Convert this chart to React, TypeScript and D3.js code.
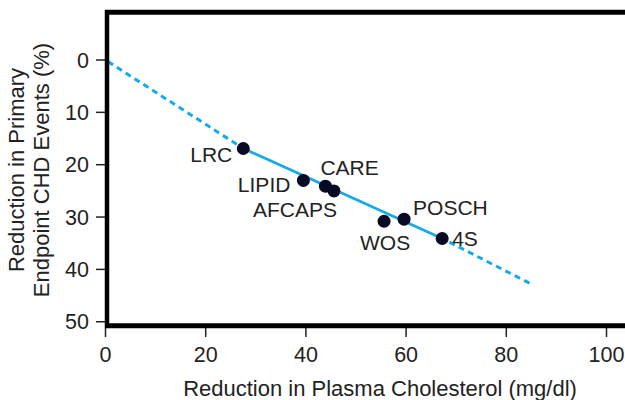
import React from 'react';
import * as d3 from 'd3';

// trials: reduction in cholesterol (x) vs reduction in CHD events (y)
const trials = ['LRC', 'LIPID', 'CARE', 'AFCAPS', 'WOS', 'POSCH', '4S'];
const cholReduction = [27.5, 39.5, 43.9, 45.6, 55.6, 59.6, 67.2];
const chdReduction = [16.9, 23.0, 24.1, 25.0, 30.8, 30.4, 34.1];

// where each label sits relative to its point
const labelAnchor = ['end', 'end', 'start', 'end', 'start', 'start', 'start'];
const labelDx = [-11, -13, -5, 3, -24, 9, 10];
const labelDy = [14, 12, -11, 26, 29, -4, 7];

const xTicks = [0, 20, 40, 60, 80, 100];
const yTicks = [0, 10, 20, 30, 40, 50];

// trend line: dashed extrapolation, solid over the trials, dashed beyond
const trendStart = [0, 0];
const trendEnd = [85, 42.8];

const W = 625;
const H = 400;
const FONT = '"Liberation Sans", Arial, Helvetica, sans-serif';
const BLUE = '#15aae8';

export default function App() {
  const x = d3.scaleLinear().domain([0, 100]).range([105.5, 606.5]);
  const y = d3.scaleLinear().domain([0, 50]).range([60, 321.75]);

  const first = 0;
  const last = trials.length - 1;
  const line = d3.line<number[]>().x(d => x(d[0])).y(d => y(d[1]));

  const dashedA = line([trendStart, [cholReduction[first], chdReduction[first]]]);
  const solid = line([
    [cholReduction[first], chdReduction[first]],
    [cholReduction[last], chdReduction[last]]
  ]);
  const dashedB = line([[cholReduction[last], chdReduction[last]], trendEnd]);

  return (
    <svg
      width={W}
      height={H}
      style={{ position: 'absolute', left: 0, top: 0, background: '#fff' }}
      fontFamily={FONT}
    >
      {/* trend line */}
      <path d={dashedA!} fill="none" stroke={BLUE} strokeWidth={3} strokeDasharray="6,4.5" strokeDashoffset={-3} />
      <path d={solid!} fill="none" stroke={BLUE} strokeWidth={2.8} />
      <path d={dashedB!} fill="none" stroke={BLUE} strokeWidth={3} strokeDasharray="6,4.5" strokeDashoffset={-8} />

      {/* points */}
      {trials.map((t, i) => (
        <circle key={t} cx={x(cholReduction[i])} cy={y(chdReduction[i])} r={6.5} fill="#070a22" />
      ))}

      {/* labels */}
      {trials.map((t, i) => (
        <text
          key={t + '-lbl'}
          x={x(cholReduction[i]) + labelDx[i]}
          y={y(chdReduction[i]) + labelDy[i]}
          textAnchor={labelAnchor[i]}
          fontSize={21}
          fill="#222"
        >
          {t}
        </text>
      ))}

      {/* frame */}
      <line x1={107} x2={107} y1={10} y2={328} stroke="#000" strokeWidth={4.5} />
      <line x1={105} x2={W} y1={12.2} y2={12.2} stroke="#000" strokeWidth={5} />
      <line x1={105} x2={W} y1={325.8} y2={325.8} stroke="#000" strokeWidth={5} />

      {/* y axis ticks */}
      {yTicks.map(v => (
        <g key={'y' + v}>
          <line x1={96} x2={105} y1={y(v)} y2={y(v)} stroke="#222" strokeWidth={1.5} />
          <text x={89} y={y(v)} dy="0.36em" textAnchor="end" fontSize={21.5} fill="#222">
            {v}
          </text>
        </g>
      ))}

      {/* x axis ticks */}
      {xTicks.map(v => (
        <g key={'x' + v}>
          <line x1={x(v)} x2={x(v)} y1={328} y2={337} stroke="#222" strokeWidth={1.5} />
          <text x={x(v)} y={362} textAnchor="middle" fontSize={21.5} fill="#222">
            {v}
          </text>
        </g>
      ))}

      {/* axis titles */}
      <text x={380} y={396} textAnchor="middle" fontSize={22} fill="#222">
        Reduction in Plasma Cholesterol (mg/dl)
      </text>
      <text transform="translate(24,170) rotate(-90)" textAnchor="middle" fontSize={22} fill="#222">
        Reduction in Primary
      </text>
      <text transform="translate(49,170) rotate(-90)" textAnchor="middle" fontSize={22} fill="#222">
        Endpoint CHD Events (%)
      </text>
    </svg>
  );
}
